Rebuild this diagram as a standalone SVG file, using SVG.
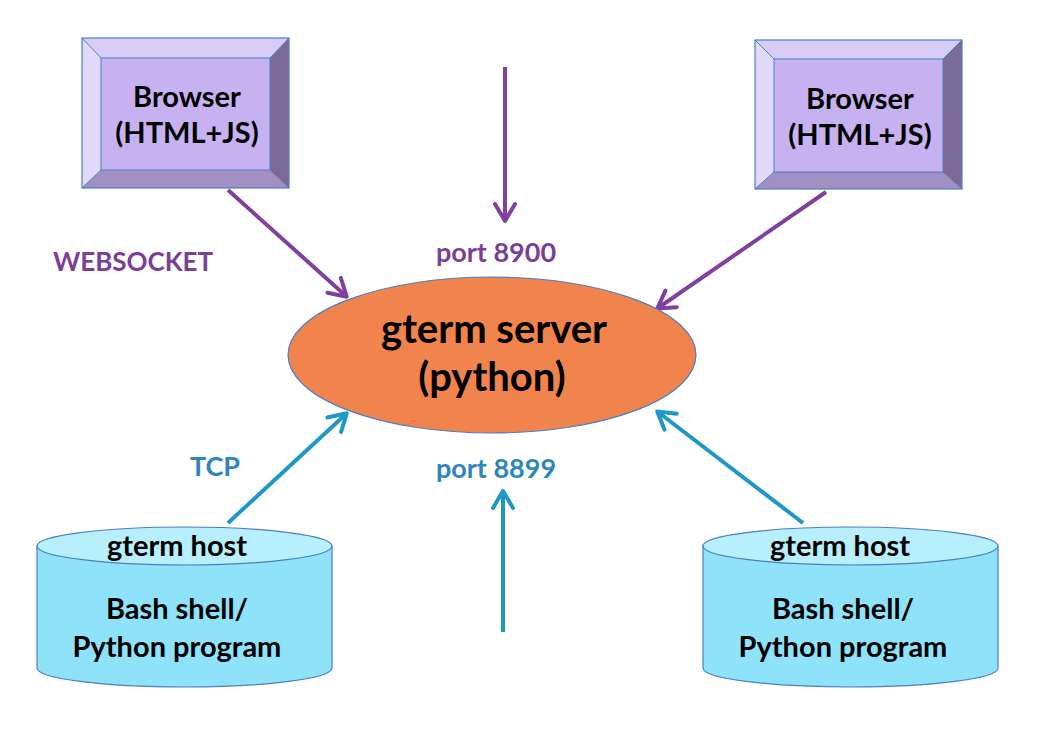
<svg xmlns="http://www.w3.org/2000/svg" width="1045" height="731" viewBox="0 0 1045 731">
<defs>
<style>
text{font-family:Lato,"Open Sans","Liberation Sans",sans-serif;font-weight:bold;text-anchor:middle}
.lbl{font-size:29px;fill:#000}
.purple{stroke:#8040a0;stroke-width:4;fill:none}
.blue{stroke:#1f98c8;stroke-width:4;fill:none}
.cyl{fill:#8ee3fb;stroke:#4a7fc0;stroke-width:1.2}
.cyltop{fill:#b8effd;stroke:#4a7fc0;stroke-width:1.2}
</style>
<marker id="ap" markerWidth="12" markerHeight="12" viewBox="0 0 12 12" refX="10" refY="6" orient="auto" markerUnits="userSpaceOnUse" overflow="visible">
<polyline points="-6,-4 11,6 -6,16" fill="none" stroke="#8040a0" stroke-width="4" stroke-linecap="round" stroke-linejoin="round"/>
</marker>
<marker id="ab" markerWidth="12" markerHeight="12" viewBox="0 0 12 12" refX="10" refY="6" orient="auto" markerUnits="userSpaceOnUse" overflow="visible">
<polyline points="-6,-4 11,6 -6,16" fill="none" stroke="#1f98c8" stroke-width="4" stroke-linecap="round" stroke-linejoin="round"/>
</marker>
</defs>
<rect width="1045" height="731" fill="#fff"/>

<g id="connectors">
<line class="purple" x1="228" y1="190" x2="346" y2="296" marker-end="url(#ap)"/>
<line class="purple" x1="826" y1="192" x2="658" y2="308" marker-end="url(#ap)"/>
<line class="purple" x1="505" y1="67" x2="505" y2="220" marker-end="url(#ap)"/>
<line class="blue" x1="228" y1="523" x2="346" y2="414" marker-end="url(#ab)"/>
<line class="blue" x1="803" y1="523" x2="658" y2="412" marker-end="url(#ab)"/>
<line class="blue" x1="503" y1="632" x2="503" y2="492" marker-end="url(#ab)"/>
</g>

<g id="browser-left">
<polygon points="82,38 289,38 270,58 101,58" fill="#d8cbf6"/>
<polygon points="82,38 101,58 101,170 82,188" fill="#e2d9f9"/>
<polygon points="289,38 289,188 270,170 270,58" fill="#7a6a96"/>
<polygon points="82,188 289,188 270,170 101,170" fill="#a28fc4"/>
<rect x="101" y="58" width="169" height="112" fill="#c6b2f0" stroke="#4a7fc0" stroke-width="1"/>
<rect x="82" y="38" width="207" height="150" fill="none" stroke="#4a7fc0" stroke-width="1.2"/>
<line x1="82" y1="38" x2="101" y2="58" stroke="#4a7fc0"/>
<line x1="289" y1="38" x2="270" y2="58" stroke="#4a7fc0"/>
<line x1="82" y1="188" x2="101" y2="170" stroke="#4a7fc0"/>
<line x1="289" y1="188" x2="270" y2="170" stroke="#4a7fc0"/>
<text class="lbl" x="187" y="107">Browser</text>
<text class="lbl" x="187" y="143">(HTML+JS)</text>
</g>

<g id="browser-right">
<polygon points="755,40 962,40 943,59 774,59" fill="#d8cbf6"/>
<polygon points="755,40 774,59 774,172 755,189" fill="#e2d9f9"/>
<polygon points="962,40 962,189 943,172 943,59" fill="#7a6a96"/>
<polygon points="755,189 962,189 943,172 774,172" fill="#a28fc4"/>
<rect x="774" y="59" width="169" height="113" fill="#c6b2f0" stroke="#4a7fc0" stroke-width="1"/>
<rect x="755" y="40" width="207" height="149" fill="none" stroke="#4a7fc0" stroke-width="1.2"/>
<line x1="755" y1="40" x2="774" y2="59" stroke="#4a7fc0"/>
<line x1="962" y1="40" x2="943" y2="59" stroke="#4a7fc0"/>
<line x1="755" y1="189" x2="774" y2="172" stroke="#4a7fc0"/>
<line x1="962" y1="189" x2="943" y2="172" stroke="#4a7fc0"/>
<text class="lbl" x="860" y="109">Browser</text>
<text class="lbl" x="860" y="145">(HTML+JS)</text>
</g>

<g id="server">
<ellipse cx="492" cy="355" rx="204" ry="78" fill="#f1834d" stroke="#4a7fc0" stroke-width="1.2"/>
<text x="494" y="343" font-size="40" fill="#000">gterm server</text>
<text x="492" y="391" font-size="40" fill="#000">(python)</text>
</g>

<g id="host-left">
<path class="cyl" d="M37,546 L37,668 A147.5,19 0 0 0 332,668 L332,546 Z"/>
<ellipse class="cyltop" cx="184.5" cy="546" rx="147.5" ry="19"/>
<text class="lbl" x="177" y="556">gterm host</text>
<text class="lbl" x="177" y="619">Bash shell/</text>
<text class="lbl" x="177" y="657">Python program</text>
</g>

<g id="host-right">
<path class="cyl" d="M703,546 L703,668 A147.5,19 0 0 0 998,668 L998,546 Z"/>
<ellipse class="cyltop" cx="850.5" cy="546" rx="147.5" ry="19"/>
<text class="lbl" x="840" y="556">gterm host</text>
<text class="lbl" x="843" y="619">Bash shell/</text>
<text class="lbl" x="843" y="657">Python program</text>
</g>

<g id="labels">
<text x="133" y="271" font-size="26" fill="#7b3f98">WEBSOCKET</text>
<text x="496" y="262" font-size="27" fill="#7b3f98">port 8900</text>
<text x="215" y="476" font-size="27" fill="#2e86bd">TCP</text>
<text x="496" y="478" font-size="27" fill="#2e86bd">port 8899</text>
</g>
</svg>
